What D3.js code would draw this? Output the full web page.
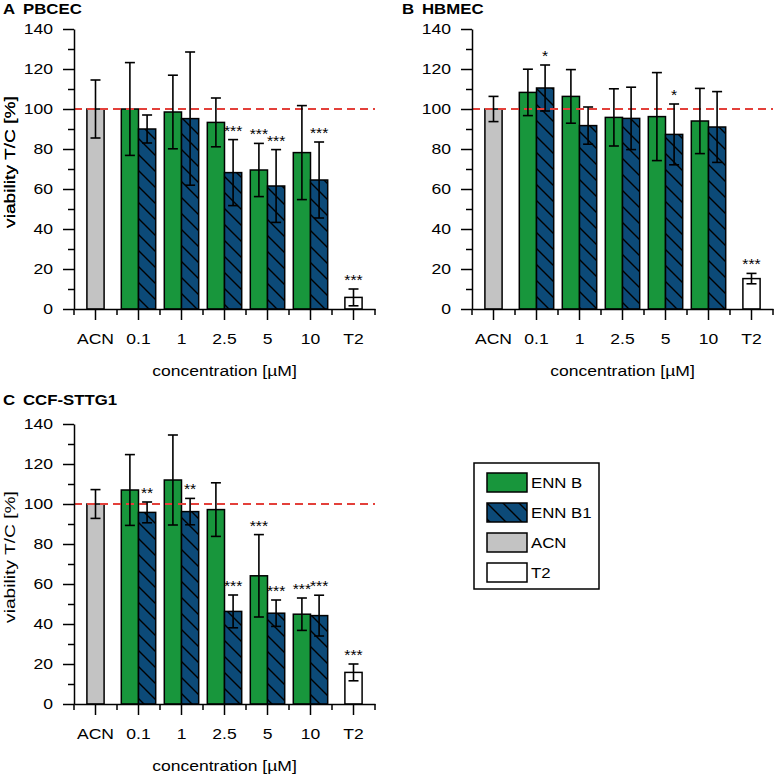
<!DOCTYPE html>
<html>
<head>
<meta charset="utf-8">
<script src="https://cdn.jsdelivr.net/npm/d3@7"></script>
<style>
  body { margin: 0; background: #fff; }
  text { font-family: "Liberation Sans", Arial, sans-serif; fill: #000; }
</style>
</head>
<body>
<script>
// categories on the x axis
const categories = ["ACN", "0.1", "1", "2.5", "5", "10", "T2"];
const concentrations = ["0.1", "1", "2.5", "5", "10"];
const yTicks = [0, 20, 40, 60, 80, 100, 120, 140];
const yMinorTicks = [10, 30, 50, 70, 90, 110, 130];

// A  PBCEC
const pbcecEnnB = [100, 98.5, 93.3, 69.5, 78.2];
const pbcecEnnBErr = [23.2, 18.4, 12.2, 13.3, 23.5];
const pbcecEnnB1 = [90, 95.2, 68.2, 61.5, 64.5];
const pbcecEnnB1Err = [7, 33.3, 16.5, 18.2, 19];
const pbcecAcn = [100, 14.5];
const pbcecT2 = [5.8, 4.2];
const pbcecSigB = ["", "", "", "***", ""];
const pbcecSigB1 = ["", "", "***", "***", "***"];
const pbcecSigT2 = "***";

// B  HBMEC
const hbmecEnnB = [108.3, 106.3, 95.8, 96.2, 94];
const hbmecEnnBErr = [11.6, 13.4, 14.3, 22, 16.3];
const hbmecEnnB1 = [110.5, 91.7, 95.3, 87.3, 91];
const hbmecEnnB1Err = [11.5, 9.3, 15.6, 15.2, 17.7];
const hbmecAcn = [100, 6.3];
const hbmecT2 = [15.2, 2.6];
const hbmecSigB = ["", "", "", "", ""];
const hbmecSigB1 = ["*", "", "", "*", ""];
const hbmecSigT2 = "***";

// C  CCF-STTG1
const ccfEnnB = [107, 112, 97.2, 64.1, 44.9];
const ccfEnnBErr = [17.7, 22.5, 13.4, 20.6, 8.1];
const ccfEnnB1 = [95.8, 96.2, 46.3, 45.4, 44.2];
const ccfEnnB1Err = [5.2, 6.6, 8.2, 6.6, 10.2];
const ccfAcn = [100, 7.2];
const ccfT2 = [15.8, 4.2];
const ccfSigB = ["", "", "", "***", "***"];
const ccfSigB1 = ["**", "**", "***", "***", "***"];
const ccfSigT2 = "***";

const legendLabels = ["ENN B", "ENN B1", "ACN", "T2"];

const green = "#18963c", blue = "#0c4a78", gray = "#c3c3c3", red = "#e3403a";
const K = 1.17; // horizontal glyph stretch

const svg = d3.select("body").append("svg")
    .attr("width", 774)
    .attr("height", 776);

const defs = svg.append("defs");
const pat = defs.append("pattern")
    .attr("id", "hatch")
    .attr("patternUnits", "userSpaceOnUse")
    .attr("width", 16).attr("height", 16);
pat.append("rect").attr("width", 16).attr("height", 16).attr("fill", blue);
pat.append("path")
    .attr("d", "M0,0 L16,16 M-4,12 L4,20 M12,-4 L20,4")
    .attr("stroke", "#000").attr("stroke-width", 1.4);

function stext(g, str, x, y, size, anchor, bold, k) {
    return g.append("text")
        .attr("transform", "translate(" + x + "," + y + ") scale(" + (k || K) + ",1)")
        .attr("text-anchor", anchor || "start")
        .style("font-size", size + "px")
        .style("font-weight", bold ? "bold" : "normal")
        .text(str);
}

function drawPanel(p) {
    var g = svg.append("g");
    var x = d3.scaleBand().domain(categories).range([p.left, p.left + 301]);
    var y = d3.scaleLinear().domain([0, 140]).range([p.bottom, p.bottom - 280]);
    var bw = x.bandwidth() * 0.4;
    var cx = function(c) { return x(c) + x.bandwidth() / 2; };

    var bars = [{cat: "ACN", v: p.acn[0], e: p.acn[1], fill: gray, dx: 0, sig: ""}];
    concentrations.forEach(function(c, i) {
        bars.push({cat: c, v: p.ennB[i], e: p.ennBErr[i], fill: green, dx: -bw / 2, sig: p.sigB[i]});
        bars.push({cat: c, v: p.ennB1[i], e: p.ennB1Err[i], fill: "url(#hatch)", dx: bw / 2, sig: p.sigB1[i]});
    });
    bars.push({cat: "T2", v: p.t2[0], e: p.t2[1], fill: "#fff", dx: 0, sig: p.sigT2});

    g.selectAll(".bar")
        .data(bars)
        .enter().append("rect")
        .attr("x", function(d) { return cx(d.cat) + d.dx - bw / 2; })
        .attr("y", function(d) { return y(d.v); })
        .attr("width", bw)
        .attr("height", function(d) { return y(0) - y(d.v); })
        .attr("fill", function(d) { return d.fill; })
        .attr("stroke", "#000")
        .attr("stroke-width", 1.5);

    // reference line at 100 %
    g.append("line")
        .attr("x1", p.left).attr("x2", p.left + 301)
        .attr("y1", y(100)).attr("y2", y(100))
        .attr("stroke", red).attr("stroke-width", 2)
        .attr("stroke-dasharray", "8,5");

    // error bars
    var eb = g.selectAll(".err").data(bars).enter().append("g")
        .attr("stroke", "#000").attr("stroke-width", 1.6);
    eb.append("line")
        .attr("x1", function(d) { return cx(d.cat) + d.dx; })
        .attr("x2", function(d) { return cx(d.cat) + d.dx; })
        .attr("y1", function(d) { return y(d.v - d.e); })
        .attr("y2", function(d) { return y(d.v + d.e); });
    [1, -1].forEach(function(s) {
        eb.append("line")
            .attr("x1", function(d) { return cx(d.cat) + d.dx - 5; })
            .attr("x2", function(d) { return cx(d.cat) + d.dx + 5; })
            .attr("y1", function(d) { return y(d.v + s * d.e); })
            .attr("y2", function(d) { return y(d.v + s * d.e); });
    });

    // significance stars
    bars.filter(function(d) { return d.sig; }).forEach(function(d) {
        stext(g, d.sig, cx(d.cat) + d.dx, y(d.v + d.e) - 4, 15, "middle", false, 1.05);
    });

    // y axis
    g.append("g")
        .attr("transform", "translate(" + p.left + ",0)")
        .call(d3.axisLeft(y).tickValues(yTicks).tickSize(11).tickSizeOuter(0).tickFormat(""));
    g.append("g")
        .attr("transform", "translate(" + p.left + ",0)")
        .call(d3.axisLeft(y).tickValues(yMinorTicks).tickSize(6).tickFormat(""))
        .select(".domain").remove();
    yTicks.forEach(function(v) {
        stext(g, v, p.left - 21, y(v) + 5.4, 15, "end");
    });

    // x axis
    g.append("g")
        .attr("transform", "translate(0," + y(0) + ")")
        .call(d3.axisBottom(x).tickSize(11).tickSizeOuter(0).tickFormat(""));
    var edges = categories.map(function(c) { return x(c); }).concat([x.range()[1]]);
    g.selectAll(".edge").data(edges).enter().append("line")
        .attr("x1", function(d) { return d; }).attr("x2", function(d) { return d; })
        .attr("y1", y(0)).attr("y2", y(0) + 6)
        .attr("stroke", "#000").attr("stroke-width", 1.5);
    categories.forEach(function(c) {
        stext(g, c, cx(c), y(0) + 35, 15, "middle");
    });

    g.selectAll(".domain, .tick line").attr("stroke", "#000").attr("stroke-width", 1.5);

    // axis titles
    stext(g, "concentration [µM]", p.left + 150.5, y(0) + 67, 15, "middle");
    g.append("text")
        .attr("transform", "translate(15," + (y(70) - 7) + ") rotate(-90) scale(1.28,1)")
        .attr("text-anchor", "middle")
        .style("font-size", "15px")
        .text("viability T/C [%]");

    // panel title
    stext(g, p.letter, p.titleX, p.titleY, 14, "start", true, 1.2);
    stext(g, p.name, p.titleX + 20, p.titleY, 14, "start", true, 1.2);
}

drawPanel({letter: "A", name: "PBCEC", left: 74, bottom: 309, titleX: 3, titleY: 14,
    ennB: pbcecEnnB, ennBErr: pbcecEnnBErr, ennB1: pbcecEnnB1, ennB1Err: pbcecEnnB1Err,
    acn: pbcecAcn, t2: pbcecT2, sigB: pbcecSigB, sigB1: pbcecSigB1, sigT2: pbcecSigT2});
drawPanel({letter: "B", name: "HBMEC", left: 472, bottom: 309, titleX: 402, titleY: 14,
    ennB: hbmecEnnB, ennBErr: hbmecEnnBErr, ennB1: hbmecEnnB1, ennB1Err: hbmecEnnB1Err,
    acn: hbmecAcn, t2: hbmecT2, sigB: hbmecSigB, sigB1: hbmecSigB1, sigT2: hbmecSigT2});
drawPanel({letter: "C", name: "CCF-STTG1", left: 74, bottom: 704, titleX: 3, titleY: 405,
    ennB: ccfEnnB, ennBErr: ccfEnnBErr, ennB1: ccfEnnB1, ennB1Err: ccfEnnB1Err,
    acn: ccfAcn, t2: ccfT2, sigB: ccfSigB, sigB1: ccfSigB1, sigT2: ccfSigT2});

// legend
var lg = svg.append("g");
lg.append("rect")
    .attr("x", 474).attr("y", 463).attr("width", 125).attr("height", 126)
    .attr("fill", "#fff").attr("stroke", "#000").attr("stroke-width", 1.5);
var legendFills = [green, "url(#hatch)", gray, "#fff"];
var ly = d3.scalePoint().domain(legendLabels).range([473, 563]);
var items = lg.selectAll(".item").data(legendLabels).enter().append("g");
items.append("rect")
    .attr("x", 487).attr("y", function(d) { return ly(d); })
    .attr("width", 40).attr("height", 19)
    .attr("fill", function(d, i) { return legendFills[i]; })
    .attr("stroke", "#000").attr("stroke-width", 1.5);
items.each(function(d) {
    stext(d3.select(this), d, 531, ly(d) + 15, 15, "start", false, 1.12);
});
</script>
</body>
</html>
